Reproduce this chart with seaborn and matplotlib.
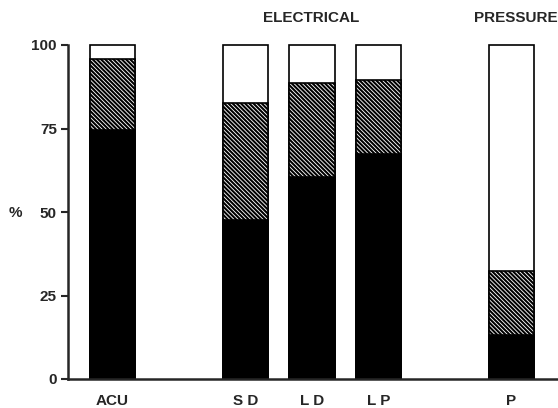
import matplotlib
matplotlib.use("Agg")
import matplotlib.pyplot as plt
import seaborn as sns
import pandas as pd

categories = ["ACU", "S D", "L D", "L P", "P"]
positions = [0, 2, 3, 4, 6]
solid = [74.5, 47.6, 60.6, 67.4, 13.2]
hatched = [21.2, 34.9, 28.1, 22.1, 19.2]
total = [100, 100, 100, 100, 100]
y_ticks = [0, 25, 50, 75, 100]


def draw():
    df = pd.DataFrame({"pos": positions, "solid": solid,
                       "hatched": hatched, "total": total})
    df["upper"] = df["solid"] + df["hatched"]

    sns.set_style("ticks")
    plt.rcParams["font.family"] = ["Liberation Sans", "DejaVu Sans"]
    plt.rcParams["hatch.linewidth"] = 1.5

    fig = plt.figure(figsize=(5.58, 4.08), dpi=100)
    ax = fig.add_axes([68 / 558, 1 - 379 / 408, 1 - 68 / 558, (379 - 45) / 408])

    bar_kw = dict(x="pos", native_scale=True, width=0.68, saturation=1,
                  edgecolor="black", linewidth=1.2, errorbar=None, ax=ax)
    sns.barplot(data=df, y="total", color="white", **bar_kw)
    sns.barplot(data=df, y="upper", color="white", hatch="\\" * 8, **bar_kw)
    sns.barplot(data=df, y="solid", color="black", **bar_kw)
    for p in ax.patches:
        p.set_clip_on(False)

    ax.set_xlim(-0.67, 6.7)
    ax.set_ylim(0, 100)
    ax.set_yticks(y_ticks)
    ax.set_xticks(positions)
    ax.set_xticklabels(categories)
    ax.set_xlabel("")
    ax.set_ylabel("")
    ax.tick_params(axis="x", length=0, pad=11, labelsize=11)
    ax.tick_params(axis="y", length=5, width=1.5, pad=3, labelsize=11)
    for lab in ax.get_xticklabels() + ax.get_yticklabels():
        lab.set_fontweight("bold")
    for side in ["top", "right"]:
        ax.spines[side].set_visible(False)
    for side in ["left", "bottom"]:
        ax.spines[side].set_linewidth(1.8)

    fig.text(15 / 558, 1 - 213 / 408, "%", fontsize=11, fontweight="bold",
             ha="center", va="center")
    ax.text(2.98, 108, "ELECTRICAL", ha="center", va="center", fontsize=11,
            fontweight="bold", clip_on=False)
    ax.text(6.7, 108, "PRESSURE", ha="right", va="center", fontsize=11,
            fontweight="bold", clip_on=False)

    fig.savefig("out.png", dpi=100)


if __name__ == "__main__":
    draw()
